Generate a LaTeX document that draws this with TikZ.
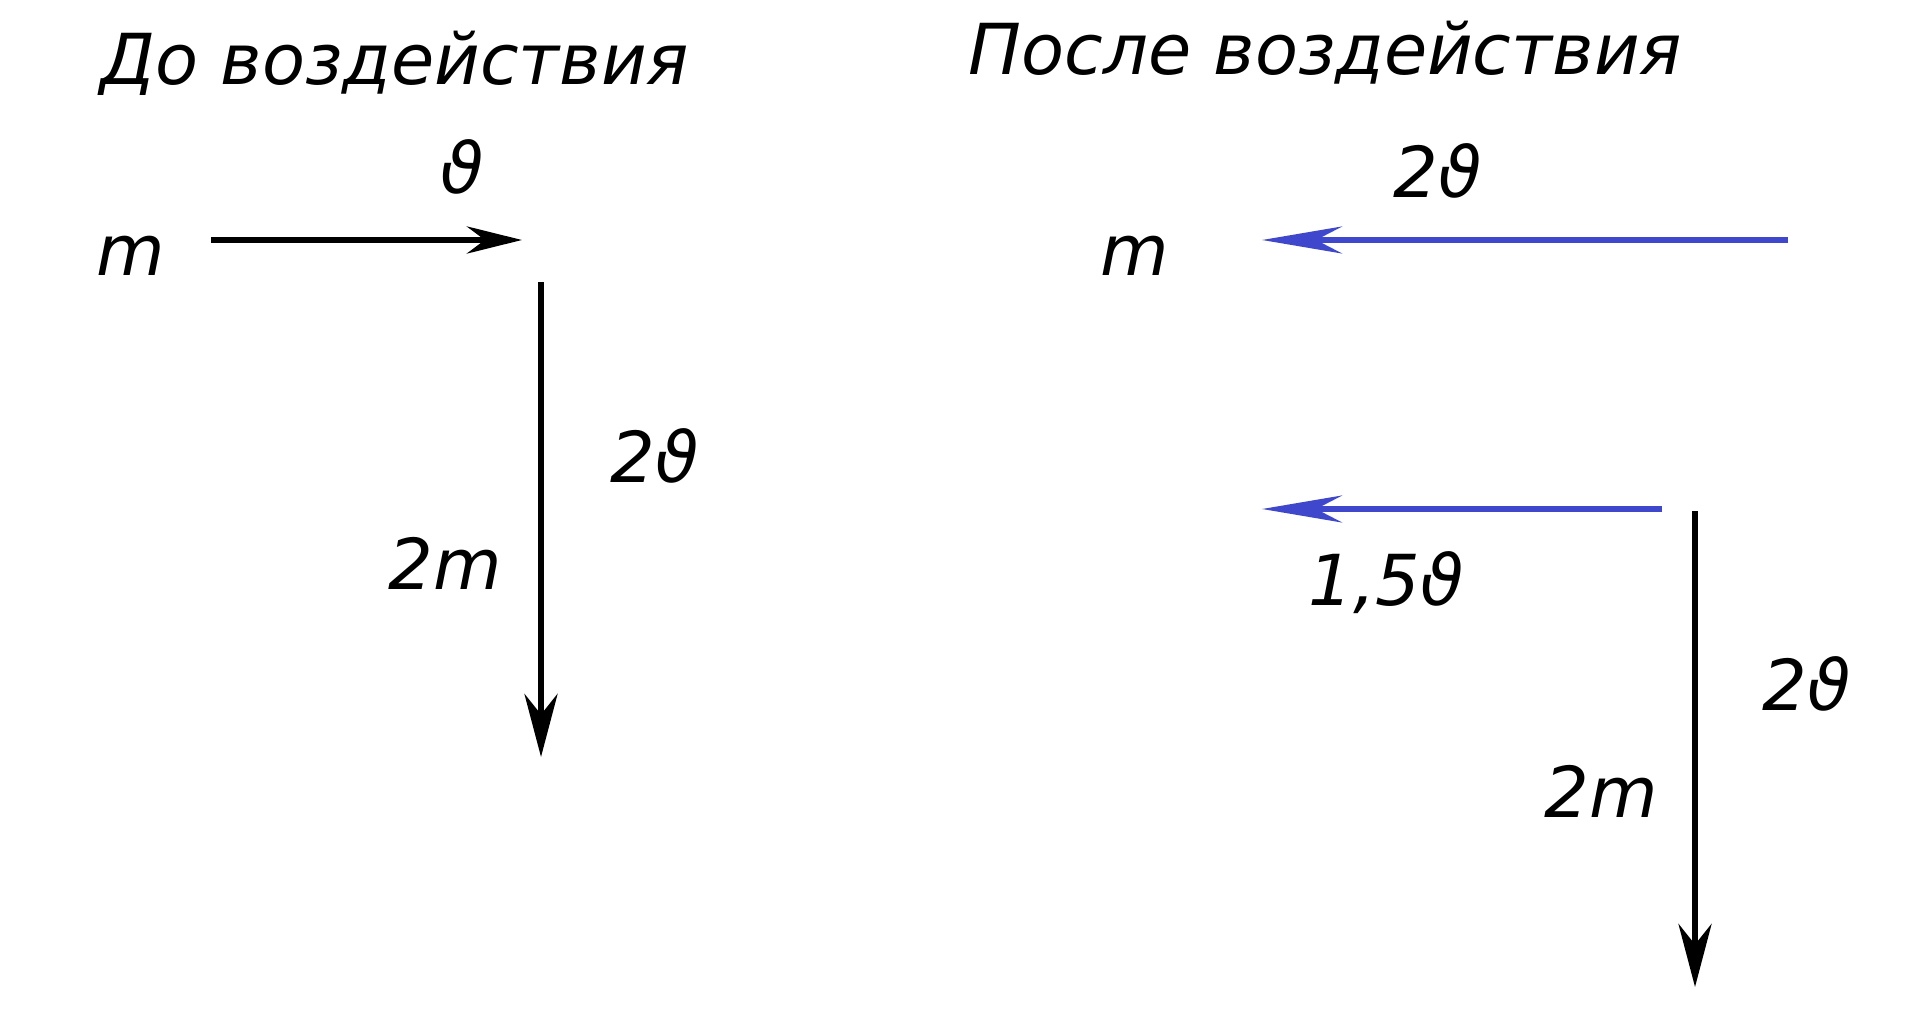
\documentclass[tikz,border=0pt]{standalone}
\usepackage{fontspec}
\setmainfont{DejaVu Sans}
\usetikzlibrary{arrows.meta}
\definecolor{paintblue}{RGB}{63,72,204}
\tikzset{lbl/.style={
        anchor=base west,
        inner sep=0pt,
        font=\fontsize{20}{24}\selectfont\itshape},
    vec/.style={
        line width=1.9pt,
        -{Stealth[length=5.5mm,width=2.7mm]}},
    longvec/.style={
        vec,
        -{Stealth[length=6.3mm,width=3.3mm]}},
    bluevec/.style={
        vec,
        draw=paintblue,
        -{Stealth[length=8mm,width=2.7mm]}}}

\begin{document}
\begin{tikzpicture}[x=0.1mm,y=-0.1mm]
        \useasboundingbox (0,0) rectangle (1913,1024);

        % before
        \node[lbl] (titleL) at (100,85) {До воздействия};
        \node[lbl] (mL) at (96,275) {m};
        \node[lbl] (vL) at (440,193) {ϑ};
        \node[lbl] (vvL) at (610,482) {2ϑ};
        \node[lbl] (mmL) at (388,589) {2m};
        \coordinate (hL1) at (211,240);
        \coordinate (hL2) at (522,240);
        \coordinate (dL1) at (541,282);
        \coordinate (dL2) at (541,757);
        \draw[vec] (hL1) -- (hL2);
        \draw[longvec] (dL1) -- (dL2);

        % after
        \node[lbl] (titleR) at (968,75) {После воздействия};
        \node[lbl] (mR) at (1100,275) {m};
        \node[lbl] (vvR) at (1393,197) {2ϑ};
        \node[lbl] (vhR) at (1308,605) {1,5ϑ};
        \node[lbl] (vvdR) at (1762,710) {2ϑ};
        \node[lbl] (mmR) at (1544,817) {2m};
        \coordinate (hR1) at (1788,240);
        \coordinate (hR2) at (1262,240);
        \coordinate (lR1) at (1662,509);
        \coordinate (lR2) at (1262,509);
        \coordinate (dR1) at (1695,511);
        \coordinate (dR2) at (1695,987);
        \draw[bluevec] (hR1) -- (hR2);
        \draw[bluevec] (lR1) -- (lR2);
        \draw[longvec] (dR1) -- (dR2);
    \end{tikzpicture}
\end{document}
